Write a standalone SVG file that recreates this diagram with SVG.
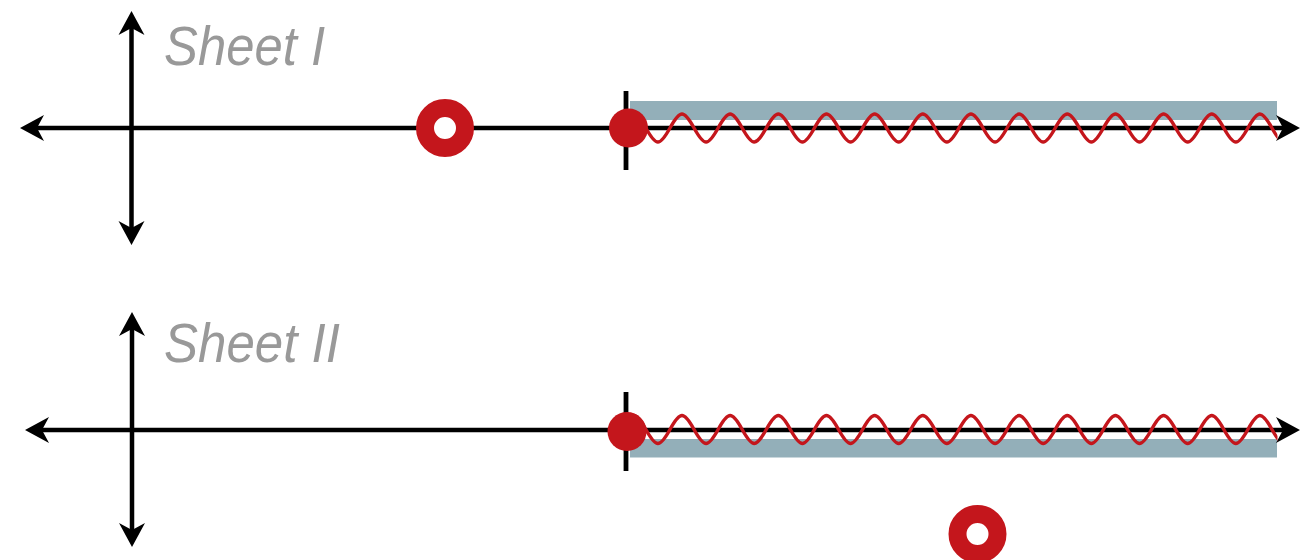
<svg xmlns="http://www.w3.org/2000/svg" xmlns:xlink="http://www.w3.org/1999/xlink" width="1300" height="560" viewBox="0 0 1300 560">
<style>
.axis{stroke:#000;stroke-width:4.5;fill:none}
.tick{stroke:#000;stroke-width:4.8}
.head{fill:#000}
.bar{fill:#93AFB9}
.wave{stroke:#C4161C;stroke-width:3.4;fill:none}
.dot{fill:#C4161C}
.ring{fill:#fff;stroke:#C4161C;stroke-width:18}
.lbl{font-family:"Liberation Sans",Arial,sans-serif;font-style:italic;font-size:56px;fill:#999999}
</style>
<defs>
<path id="ah" class="head" d="M0,0 L-24,-13 L-17,0 L-24,13 Z"/>
<clipPath id="wclip"><rect x="600" y="0" width="677.5" height="560"/></clipPath>
<path id="wv" class="wave" d="M621.8,128 c10.22,-18.67 13.86,-18.67 24.08,0 s13.86,18.67 24.08,0 s13.86,-18.67 24.08,0 s13.86,18.67 24.08,0 s13.86,-18.67 24.08,0 s13.86,18.67 24.08,0 s13.86,-18.67 24.08,0 s13.86,18.67 24.08,0 s13.86,-18.67 24.08,0 s13.86,18.67 24.08,0 s13.86,-18.67 24.08,0 s13.86,18.67 24.08,0 s13.86,-18.67 24.08,0 s13.86,18.67 24.08,0 s13.86,-18.67 24.08,0 s13.86,18.67 24.08,0 s13.86,-18.67 24.08,0 s13.86,18.67 24.08,0 s13.86,-18.67 24.08,0 s13.86,18.67 24.08,0 s13.86,-18.67 24.08,0 s13.86,18.67 24.08,0 s13.86,-18.67 24.08,0 s13.86,18.67 24.08,0 s13.86,-18.67 24.08,0 s13.86,18.67 24.08,0 s13.86,-18.67 24.08,0 s13.86,18.67 24.08,0"/>
</defs>

<g id="sheet1">
  <g id="sheet1-cut">
    <rect class="bar" x="630" y="101" width="647" height="19"/>
  </g>
  <g id="sheet1-axes">
    <line class="axis" x1="37" y1="128" x2="1284" y2="128"/>
    <line class="axis" x1="131.5" y1="27" x2="131.5" y2="229"/>
    <use xlink:href="#ah" transform="translate(20,128) rotate(180)"/>
    <use xlink:href="#ah" transform="translate(1300,128)"/>
    <use xlink:href="#ah" transform="translate(131.5,11) rotate(-90)"/>
    <use xlink:href="#ah" transform="translate(131.5,245) rotate(90)"/>
    <line class="tick" x1="626" y1="91" x2="626" y2="170"/>
  </g>
  <g id="sheet1-wave" clip-path="url(#wclip)">
    <use xlink:href="#wv"/>
  </g>
  <g id="sheet1-branch"><circle class="dot" cx="628.5" cy="128" r="19.5"/></g>
  <g id="sheet1-pole"><circle class="ring" cx="445" cy="128" r="20"/></g>
  <g id="sheet1-label"><text class="lbl" x="164" y="65" textLength="161" lengthAdjust="spacingAndGlyphs">Sheet I</text></g>
</g>

<g id="sheet2">
  <g id="sheet2-cut">
    <rect class="bar" x="630" y="439" width="647" height="18.5"/>
  </g>
  <g id="sheet2-axes">
    <line class="axis" x1="42" y1="430" x2="1284" y2="430"/>
    <line class="axis" x1="132" y1="328" x2="132" y2="531"/>
    <use xlink:href="#ah" transform="translate(25,430) rotate(180)"/>
    <use xlink:href="#ah" transform="translate(1300,430)"/>
    <use xlink:href="#ah" transform="translate(132,312) rotate(-90)"/>
    <use xlink:href="#ah" transform="translate(132,547) rotate(90)"/>
    <line class="tick" x1="626" y1="392" x2="626" y2="471"/>
  </g>
  <g id="sheet2-wave" clip-path="url(#wclip)">
    <use xlink:href="#wv" transform="translate(0,301.5)"/>
  </g>
  <g id="sheet2-branch"><circle class="dot" cx="627" cy="431.5" r="19.5"/></g>
  <g id="sheet2-pole"><circle class="ring" cx="977.5" cy="534" r="20"/></g>
  <g id="sheet2-label"><text class="lbl" x="164" y="362" textLength="176" lengthAdjust="spacingAndGlyphs">Sheet II</text></g>
</g>
</svg>
